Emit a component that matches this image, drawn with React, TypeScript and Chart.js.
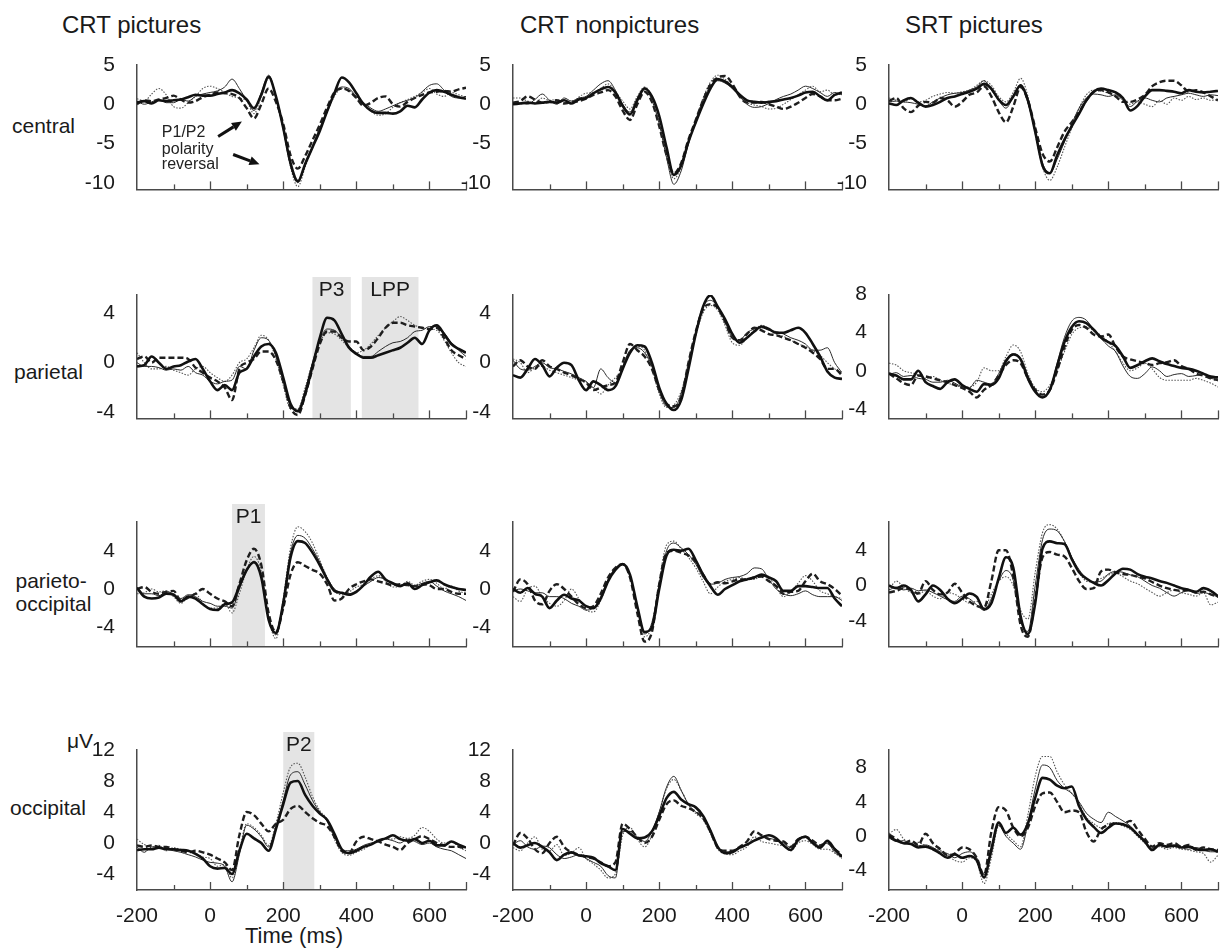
import React, { useEffect, useRef } from "react";
import { Chart, registerables } from "chart.js";
Chart.register(...registerables);

const FONT = '"Liberation Sans", Arial, Helvetica, sans-serif';

// ---------- shared axes ----------
const TIMES = [-200,-180,-160,-140,-120,-100,-80,-60,-40,-20,0,20,40,60,80,100,120,140,160,180,200,220,240,260,280,300,320,340,360,380,400,420,440,460,480,500,520,540,560,580,600,620,640,660,680,700];
const X_TICK_MARKS = [-100,0,100,200,300,400,500,600,700];
const X_LABELS = [-200,0,200,400,600];
const COLUMN_TITLES = ["CRT pictures", "CRT nonpictures", "SRT pictures"];
const ROW_LABELS = [["central"], ["parietal"], ["parieto-", "occipital"], ["occipital"]];

const Y_TICKS_CENTRAL = [-10,-5,0,5];
const Y_TICKS_4 = [-4,0,4];
const Y_TICKS_48 = [-4,0,4,8];
const Y_TICKS_12 = [-4,0,4,8,12];

// shaded component windows (ms)
const WIN_P3 = [280, 385];
const WIN_LPP = [415, 570];
const WIN_P1 = [60, 150];
const WIN_P2 = [200, 285];

// ---------- central ----------
const CEN_CP_THICK = [0.2,0.4,0.1,0.5,0.4,0.5,0.6,0.9,1.2,1.1, 1.1,1.3,1.5,1.8,1.4,0.6,-0.5,1.2,3.5,1.0, -3.0,-7.5,-9.8,-7.6,-5.5,-3.4,-0.9,1.4,3.4,2.8, 1.4,0.0,-0.8,-1.1,-1.1,-1.2,-0.9,-0.2,-0.4,0.6, 1.5,1.8,1.6,1.2,0.9,0.7];
const CEN_CP_THIN = [0.4,0.0,0.3,0.6,0.2,0.2,0.6,0.4,1.0,1.3, 1.5,1.7,2.2,3.2,2.0,0.5,-0.8,1.5,3.7,1.0, -3.2,-7.8,-10.0,-7.8,-5.3,-3.0,-0.8,1.2,2.2,2.0, 1.0,0.2,-0.5,-0.9,-0.6,-0.2,0.2,0.5,0.8,1.6, 2.4,2.6,1.8,1.0,0.8,1.0];
const CEN_CP_DASH = [0.0,0.5,0.4,0.6,0.8,1.1,0.6,0.2,0.4,0.9, 1.2,1.5,1.4,1.3,0.8,-0.5,-1.8,0.0,2.0,0.3, -2.5,-6.5,-8.2,-6.6,-4.6,-2.6,-0.4,1.5,2.0,1.7, 0.8,-0.2,0.2,0.8,1.0,0.0,-0.3,0.3,0.8,1.2, 1.5,1.6,1.7,1.6,1.9,2.1];
const CEN_CP_DOT = [0.7,0.4,1.3,2.0,1.2,-0.3,-0.5,0.2,1.0,2.0, 2.3,2.0,1.5,1.0,0.8,0.4,-1.2,1.0,3.3,0.8, -3.2,-8.0,-10.5,-8.0,-5.5,-3.2,-1.0,1.0,2.0,1.8, 0.8,0.0,-0.9,-1.4,-1.2,-0.4,0.2,0.6,1.0,1.5, 2.0,1.3,1.0,1.5,1.2,0.9];

const CEN_CN_THICK = [0.0,0.1,0.2,0.1,0.2,0.3,0.2,0.5,0.1,0.6, 0.8,1.4,1.9,2.2,1.5,-0.2,-1.3,0.5,2.0,1.0, -1.5,-5.5,-9.0,-7.8,-4.8,-2.3,0.0,2.0,3.2,2.9, 2.2,1.2,0.5,0.3,0.2,0.3,0.4,0.6,0.8,1.1, 1.5,1.6,1.0,0.5,1.2,1.5];
const CEN_CN_THIN = [0.1,0.2,0.0,0.6,1.3,0.5,0.0,0.8,0.4,0.8, 1.0,1.8,2.6,3.0,1.8,0.0,-1.0,0.8,2.1,0.5, -2.5,-6.8,-10.2,-8.5,-5.0,-2.0,0.5,2.3,3.0,2.7, 2.0,1.0,0.0,-0.4,-0.3,0.1,0.6,1.0,1.3,1.8, 2.3,2.0,1.5,1.0,1.5,1.2];
const CEN_CN_DASH = [0.2,0.4,1.0,0.6,0.2,0.3,0.5,0.1,0.3,0.4, 0.7,1.2,1.5,1.8,1.0,-0.8,-2.0,0.0,1.6,0.3, -2.8,-6.5,-8.8,-7.5,-4.5,-2.0,0.5,2.5,3.4,3.6, 2.6,1.0,0.2,0.2,0.3,0.0,-0.3,-0.6,-0.3,0.2, 0.8,1.3,1.0,0.5,0.5,0.7];
const CEN_CN_DOT = [0.8,0.8,0.4,0.2,0.8,0.5,0.6,0.2,0.0,0.9, 1.4,1.5,2.0,2.6,1.6,0.4,-0.6,1.0,2.2,1.0, -2.0,-6.5,-9.5,-8.0,-5.0,-2.0,0.8,2.8,3.7,3.2, 2.2,1.0,0.2,-0.1,-0.3,-0.6,-0.5,0.0,0.6,1.2, 1.8,2.3,1.6,1.8,1.2,1.3];

const CEN_SP_THICK = [0.1,-0.1,0.5,0.8,0.2,-0.3,-0.1,0.3,0.8,1.0, 1.3,1.6,2.0,2.6,2.0,0.6,-0.1,1.0,2.4,0.5, -3.5,-7.8,-8.8,-6.5,-4.5,-2.8,-1.2,0.5,1.6,2.0, 1.8,1.5,0.8,-0.8,-0.2,1.0,1.8,1.8,1.7,1.6, 1.4,1.8,1.6,1.5,1.6,1.7];
const CEN_SP_THIN = [0.3,0.4,0.3,0.2,0.0,-0.2,0.3,0.8,1.2,1.4, 1.5,1.8,2.2,3.0,1.8,0.5,-0.5,1.0,2.5,0.2, -3.5,-7.5,-8.8,-7.0,-4.8,-2.5,-0.5,0.8,1.3,1.2, 1.0,1.2,0.5,-0.3,0.4,0.8,0.5,0.3,0.8,1.0, 1.2,1.4,1.2,1.0,1.2,1.1];
const CEN_SP_DASH = [0.4,0.8,-0.5,-1.0,-0.2,0.3,0.2,0.8,0.5,-0.3, 0.3,1.2,1.5,2.3,1.0,-1.0,-2.3,-0.3,2.2,0.5, -3.0,-6.3,-7.3,-5.5,-3.5,-2.3,-1.0,0.5,1.6,1.8, 1.5,1.0,0.3,0.3,0.6,1.2,2.3,2.8,3.0,3.0, 2.4,1.6,1.8,1.5,1.0,0.5];
const CEN_SP_DOT = [0.8,0.5,0.3,0.7,0.3,0.5,1.0,1.3,1.5,1.4, 1.6,1.8,2.4,3.0,2.4,1.0,0.3,1.5,3.3,1.0, -3.8,-8.0,-9.7,-8.0,-5.5,-3.0,-0.5,1.2,1.8,1.7, 1.4,1.0,0.8,0.0,0.3,0.0,-0.3,0.5,0.0,0.8, 0.5,1.0,0.6,0.8,0.5,0.6];

// ---------- parietal ----------
const PAR_CP_THICK = [-0.3,-0.2,0.5,0.0,-0.5,-0.3,-0.2,0.1,0.3,-0.5, -1.5,-2.2,-1.8,-2.2,-0.8,-0.5,0.5,1.3,1.5,0.8, -1.2,-3.3,-3.9,-2.5,-0.3,2.0,3.6,3.4,2.3,1.2, 0.7,0.4,0.4,0.6,0.8,1.0,1.2,1.6,2.0,1.5, 2.6,3.0,2.3,1.5,1.1,0.8];
const PAR_CP_THIN = [0.0,-0.3,-0.3,-0.4,-0.6,-0.5,-0.6,-0.3,-0.8,-1.0, -1.5,-1.7,-1.5,-1.4,-0.3,-0.5,1.0,2.0,1.8,0.5, -1.5,-3.5,-3.8,-2.2,0.0,1.8,2.7,2.6,2.0,1.3, 0.8,0.5,0.5,0.9,1.3,1.6,1.7,2.0,2.5,2.6, 2.9,2.9,2.4,1.6,1.0,0.5];
const PAR_CP_DASH = [0.3,0.5,0.0,0.4,0.4,0.4,0.4,0.3,-0.4,-0.8, -1.2,-1.5,-2.0,-3.0,-0.5,0.0,0.3,0.9,0.9,0.2, -1.5,-3.6,-4.2,-2.6,-0.5,1.5,2.5,2.5,2.0,1.7, 1.7,1.0,1.3,2.0,2.8,3.2,3.2,3.0,2.9,2.8, 2.7,2.8,2.0,1.0,0.6,0.3];
const PAR_CP_DOT = [0.8,0.0,-0.5,-0.5,-0.3,-0.6,-0.8,-1.0,-0.5,-0.3, -0.8,-1.2,-1.5,-1.0,0.0,0.3,1.2,2.2,1.8,0.3, -1.8,-3.7,-3.7,-2.0,0.0,1.6,2.4,2.3,1.8,1.2, 0.8,1.0,1.5,2.2,2.8,3.3,3.7,3.4,3.0,2.8, 2.7,2.6,1.8,0.8,0.0,-0.3];

const PAR_CN_THICK = [-1.0,-1.2,-0.5,0.3,-0.2,-1.1,-0.4,0.0,-0.2,-1.4, -2.2,-1.5,-1.8,-2.2,-1.9,-0.5,0.8,1.4,1.3,0.0, -2.0,-3.3,-3.8,-3.0,-0.5,2.3,4.5,5.4,4.5,3.5, 2.3,1.6,2.0,2.5,2.9,2.7,2.4,2.4,2.6,2.8, 2.4,1.5,0.5,-0.7,-1.2,-1.3];
const PAR_CN_THIN = [0.2,-0.5,-0.6,-0.3,0.0,-0.4,-0.5,-0.7,-0.9,-1.2, -1.5,-2.0,-0.5,-1.2,-1.6,-0.3,1.0,1.2,0.8,-0.3, -2.3,-3.5,-3.6,-2.5,0.0,2.5,4.5,5.0,4.5,3.3, 2.0,1.8,2.4,2.7,2.8,2.6,2.5,2.3,2.0,1.8, 1.5,1.0,1.0,1.2,0.0,-0.8];
const PAR_CN_DASH = [-0.3,0.2,-0.3,-0.5,0.2,-0.3,-0.5,-0.8,-1.0,-1.3, -1.6,-2.2,-2.0,-1.8,-1.6,0.0,1.5,1.0,0.5,-0.5, -2.2,-3.3,-3.5,-2.8,0.0,2.5,4.3,4.7,4.4,3.3, 2.0,1.8,2.3,2.8,2.6,2.3,2.2,2.0,1.8,1.5, 1.2,0.8,0.3,-0.5,-0.5,-1.0];
const PAR_CN_DOT = [0.3,0.0,-0.8,-0.4,-0.3,-0.6,-0.8,-1.0,-1.2,-1.4, -1.6,-2.0,-2.5,-1.8,-1.2,-0.5,0.8,1.3,1.0,-0.5, -2.5,-3.6,-3.4,-2.3,-0.2,2.2,4.0,4.6,4.2,3.0, 1.6,1.4,2.0,2.6,3.0,2.7,2.3,2.1,1.8,1.5, 1.3,1.0,0.6,0.0,-0.5,-0.8];

const PAR_SP_THICK = [-0.3,-0.5,-0.9,-0.9,0.0,-1.2,-1.6,-1.9,-1.2,-0.9, -1.5,-1.9,-2.2,-1.4,-1.5,-0.8,1.0,1.7,1.2,-0.8, -2.2,-2.8,-2.0,0.5,3.0,4.6,5.2,5.0,4.3,3.5, 3.0,2.6,1.5,0.3,0.6,1.0,1.3,1.0,0.7,0.5, 0.3,0.2,0.0,-0.3,-0.6,-0.7];
const PAR_SP_THIN = [-0.4,-0.2,-0.6,-0.5,-0.8,-0.9,-1.2,-1.2,-1.0,-1.3, -1.7,-1.8,-1.0,-1.2,-1.4,-0.3,1.2,1.8,1.3,-0.5, -2.0,-2.7,-2.0,0.8,3.5,5.2,5.6,5.3,4.3,3.4, 2.6,2.0,0.5,-0.6,-0.8,-0.3,0.4,0.0,-0.6,-0.4, -0.3,-0.6,-0.5,-0.4,-0.8,-0.9];
const PAR_SP_DASH = [-0.3,-0.8,-1.3,-1.5,-0.5,-0.6,-0.8,-1.0,-1.2,-1.5, -1.8,-2.2,-2.8,-2.0,-1.5,-0.5,0.6,1.1,0.8,-0.8, -2.0,-2.5,-2.0,0.0,2.5,4.3,4.8,4.5,3.8,3.6, 3.8,2.5,1.5,1.2,1.0,0.8,0.6,0.8,0.9,1.1, 0.5,0.2,-0.3,-0.5,-0.8,-1.0];
const PAR_SP_DOT = [0.8,0.6,0.0,-0.2,-0.4,-0.8,-0.6,-1.0,-1.3,-1.5, -1.7,-1.7,-1.2,0.3,0.0,0.0,1.5,2.7,2.0,-0.3, -1.8,-2.2,-1.5,0.0,2.0,3.8,4.5,4.6,4.2,3.7, 3.0,2.0,0.8,0.0,0.3,0.8,0.2,-0.7,-1.0,-1.0, -1.0,-1.0,-0.8,-1.0,-1.3,-1.7];

// ---------- parieto-occipital ----------
const PO_CP_THICK = [0.1,-0.8,-1.0,-0.9,-0.5,-0.6,-1.3,-0.8,-1.0,-1.6, -2.1,-2.2,-1.6,-1.4,0.3,2.0,2.8,1.2,-3.2,-4.6, -1.5,3.3,5.0,4.8,3.8,2.5,1.0,-0.2,-0.4,-0.6, -0.3,0.4,1.3,1.8,1.0,0.6,0.3,0.6,0.0,0.4, 0.7,0.9,0.5,0.2,0.0,-0.1];
const PO_CP_THIN = [0.2,-0.5,-0.5,-0.7,-0.3,-0.5,-1.0,-0.6,-0.8,-1.3, -1.5,-1.8,-1.8,-2.0,0.0,1.8,2.9,1.5,-3.0,-4.8, -1.2,3.8,5.6,5.3,4.2,2.8,1.2,0.0,-0.4,-0.5, -0.2,0.3,0.8,1.2,1.0,0.5,0.4,0.5,0.3,0.6, 0.8,0.3,-0.2,-0.5,-0.8,-1.2];
const PO_CP_DASH = [0.0,0.2,-0.3,-0.5,-0.3,-0.2,-1.2,-0.9,-0.5,0.0, -0.5,-1.0,-1.3,-1.8,0.5,3.0,4.2,2.5,-2.5,-4.5, -2.0,1.5,2.8,2.4,2.0,1.6,0.5,-1.2,-1.0,0.0, 0.5,0.8,1.0,0.8,0.6,0.4,0.5,0.4,0.3,0.5, 0.4,0.0,0.0,-0.3,-0.5,-0.5];
const PO_CP_DOT = [-0.5,-0.4,0.0,-0.3,-0.2,-0.8,-1.5,-0.8,-0.5,-1.5, -2.0,-2.0,-1.5,-2.5,-0.5,2.0,3.4,1.8,-3.0,-5.2, -1.0,4.3,6.5,6.0,4.8,3.0,1.2,-0.2,-0.6,-0.3, 0.2,0.5,1.0,1.4,0.8,0.2,0.3,0.8,0.4,0.8, 1.0,0.6,0.0,0.3,-0.2,-0.5];

const PO_CN_THICK = [0.0,-0.4,0.1,-0.5,-0.8,-2.0,-1.2,-0.6,-1.0,-1.2, -1.8,-2.0,-1.0,0.8,2.0,2.6,1.5,-1.8,-4.5,-4.0, 0.0,3.5,4.1,4.0,4.2,3.0,1.5,0.3,-0.6,0.0, 0.4,0.8,1.0,1.2,1.5,1.2,0.8,-0.2,-0.2,0.3, 0.3,0.2,0.1,0.1,-1.0,-1.8];
const PO_CN_THIN = [-0.2,0.0,-0.2,-0.4,-0.4,-0.8,-0.8,-1.0,-1.5,-1.8, -2.2,-2.0,-0.8,1.0,2.2,2.6,1.3,-2.0,-4.7,-3.5, 0.5,4.0,4.8,4.3,3.6,2.6,1.2,0.5,0.6,1.0, 1.2,1.3,1.6,2.2,2.1,1.0,0.0,-0.5,-0.7,-0.5, -0.2,-0.6,-0.8,-0.8,-0.8,-1.2];
const PO_CN_DASH = [-0.3,1.0,0.5,-1.2,-1.6,-0.2,0.5,0.0,-0.8,-1.6, -2.0,-1.8,-0.5,1.2,2.2,2.6,1.2,-2.5,-5.5,-4.5, 0.5,3.8,4.0,3.8,3.5,2.8,1.5,0.5,0.7,0.6, 0.8,1.0,1.0,1.2,1.3,0.8,0.3,-0.5,-0.3,-0.2, 0.8,1.6,0.8,0.5,0.0,-0.7];
const PO_CN_DOT = [-0.8,-1.3,0.0,0.3,-0.8,-1.5,-1.8,-1.2,0.0,-1.0, -2.2,-2.4,-1.2,0.8,2.0,2.5,1.4,-2.2,-5.0,-3.8, 0.8,4.6,5.0,4.2,3.3,2.2,0.8,-0.5,0.2,0.8, 1.0,1.2,1.0,1.0,1.4,1.2,0.2,-0.8,-0.3,0.6, 1.4,0.8,-0.2,-0.5,-0.8,-1.0];

const PO_SP_THICK = [0.0,-0.3,0.0,-0.5,-1.8,-1.0,0.0,-0.5,-1.5,-2.0, -1.5,-0.9,-1.3,-2.7,-2.0,0.8,3.2,2.0,-3.5,-5.5, -2.0,4.2,5.0,4.8,4.7,3.0,1.5,0.8,0.3,0.0, 0.6,1.4,1.9,1.8,1.3,1.0,0.8,0.5,0.3,0.0, -0.3,-0.5,-0.7,-0.3,-0.6,-1.2];
const PO_SP_THIN = [-0.5,-0.2,-0.5,-0.3,-0.6,-0.5,-0.8,-1.2,-1.6,-1.8, -1.2,-1.5,-2.2,-2.8,-1.5,0.5,1.7,0.6,-4.0,-5.2, 0.0,5.2,6.4,6.2,5.0,3.2,1.8,0.8,0.4,0.5, 1.3,1.6,1.5,1.2,1.0,0.5,0.0,-0.3,-0.8,-1.2, -0.8,-0.6,-0.9,-0.8,-1.0,-1.3];
const PO_SP_DASH = [-0.8,-0.6,-0.3,-0.5,-0.9,0.5,-0.5,-1.0,-0.8,0.2, -0.8,-1.8,-2.3,-2.5,0.5,4.0,4.0,1.0,-4.5,-5.8, -1.5,3.2,3.8,3.5,3.3,2.0,0.5,-0.4,-0.3,1.6, 1.8,1.5,1.3,1.2,1.0,0.8,0.4,0.0,-0.3,-0.5, -0.6,-0.5,-0.8,-0.7,-1.0,-1.3];
const PO_SP_DOT = [-0.5,0.5,-0.2,-0.8,-1.0,-0.6,-1.2,-1.5,-0.8,-1.0, -1.5,-2.0,-1.8,-2.5,-1.0,0.5,1.0,0.0,-2.8,-3.8, 1.5,6.0,6.9,6.4,5.0,3.2,1.5,0.5,0.4,0.8, 1.2,1.4,1.0,0.5,0.2,-0.3,-0.8,-1.2,-0.8,-0.5, -0.8,-1.0,-1.2,-0.8,-2.2,-1.9];

// ---------- occipital ----------
const OCC_CP_THICK = [-0.9,-0.8,-0.8,-0.6,-0.8,-0.8,-0.9,-1.0,-1.4,-2.0, -3.0,-3.3,-3.2,-4.0,-1.0,1.2,0.6,0.0,-1.0,1.8, 5.0,7.8,8.0,6.2,4.8,3.8,3.0,1.2,-0.8,-1.3, -1.0,-0.5,-0.2,0.3,0.6,1.0,0.5,0.3,0.5,0.0, 0.3,-0.3,-0.3,0.2,-0.2,-0.6];
const OCC_CP_THIN = [-0.5,-1.2,-0.5,-0.6,-0.8,-1.0,-1.2,-1.5,-1.8,-2.2, -2.5,-2.6,-3.0,-5.0,-1.5,2.3,1.8,0.8,-0.5,2.0, 5.5,8.8,9.2,7.5,5.5,4.0,2.8,0.8,-0.8,-1.0, -0.8,-0.3,0.0,0.2,0.5,0.3,0.0,0.5,0.2,-0.2, 0.0,-0.5,-0.8,-1.0,-1.5,-2.0];
const OCC_CP_DASH = [-0.3,-0.5,-0.3,-0.5,-0.5,-0.8,-1.0,-1.2,-1.0,-1.2, -1.5,-2.0,-2.5,-3.5,1.0,4.0,3.6,2.5,1.5,2.5, 3.0,4.4,4.8,4.0,3.2,2.6,2.2,0.8,-1.0,-1.3, 0.2,0.8,0.5,0.2,-0.2,-0.5,-0.9,0.0,0.5,0.9, 0.5,0.0,-0.3,-0.5,-0.5,-0.8];
const OCC_CP_DOT = [0.5,-0.2,-0.5,-0.3,-1.0,-0.6,-0.8,-1.0,-1.3,-1.8, -2.0,-3.0,-2.8,-4.5,-1.0,2.5,2.0,1.0,-0.3,2.5, 6.5,9.8,10.3,8.5,6.0,4.2,3.0,0.5,-1.2,-1.6, -1.2,-0.8,-0.2,0.3,0.6,0.5,0.8,0.6,1.0,2.0, 1.5,0.5,0.0,0.2,-0.5,-1.0];

const OCC_CN_THICK = [0.0,-0.6,-0.3,0.0,-0.5,-1.2,-2.2,-1.5,-1.2,-1.6, -1.7,-1.9,-2.6,-3.0,-3.5,1.8,1.2,0.6,0.7,1.5, 3.5,5.8,6.6,5.6,5.0,4.6,3.5,1.6,-0.5,-1.3, -1.2,-0.6,-0.2,0.3,0.7,1.0,0.6,-0.3,-0.9,0.4, 0.8,0.0,-0.6,0.3,-0.8,-1.8];
const OCC_CN_THIN = [-0.2,0.3,-0.5,-0.8,-0.4,-0.6,-1.5,-2.0,-1.8,-1.5, -2.0,-2.5,-3.0,-4.2,-4.5,1.5,1.5,0.8,0.2,1.5, 4.0,7.2,8.6,6.8,5.0,4.0,3.4,1.5,-0.5,-1.2, -1.0,-0.5,-0.2,0.4,0.8,0.6,0.4,0.0,-0.6,0.5, 0.8,0.2,-0.4,0.0,-1.2,-1.8];
const OCC_CN_DASH = [-0.3,1.3,0.6,-0.8,-1.3,0.0,0.8,-0.5,-1.2,-1.5, -1.8,-2.0,-2.5,-3.0,-2.5,2.5,1.8,0.8,0.0,0.8, 3.0,5.0,5.5,4.8,4.5,4.0,3.2,1.5,-0.6,-1.0, -1.0,-0.5,0.2,1.5,1.0,0.5,0.3,0.2,-0.5,0.5, 0.8,0.3,-0.3,0.0,-0.8,-1.5];
const OCC_CN_DOT = [-0.6,-1.0,0.0,0.8,-0.8,-1.0,-0.2,-1.6,-1.3,-0.6, -2.0,-2.7,-3.5,-4.5,-4.0,1.0,2.0,0.5,-0.5,1.0, 4.0,7.0,8.2,6.8,5.0,3.8,3.0,1.2,-0.8,-1.4, -1.5,-1.0,-0.5,0.8,0.2,0.0,-0.2,-0.4,-1.0,0.0, 0.3,-0.2,-0.8,-0.8,-1.3,-2.0];

const OCC_SP_THICK = [0.0,-0.5,-0.8,-0.9,-1.3,-1.2,-1.5,-2.0,-2.5,-2.1, -2.5,-2.3,-2.8,-4.8,-1.5,1.6,0.4,1.0,0.2,1.5, 4.5,6.8,6.6,5.9,5.6,5.8,3.5,2.0,1.1,0.4, 1.0,1.5,1.4,1.0,0.2,-0.6,-1.6,-1.0,-1.2,-1.1, -1.3,-1.2,-1.5,-1.6,-1.5,-1.8];
const OCC_SP_THIN = [-0.2,-0.6,-0.5,-0.9,-1.1,-1.0,-1.3,-1.8,-2.0,-2.5, -2.0,-1.8,-2.5,-4.5,-2.0,1.3,0.0,-0.8,-1.5,1.5, 5.5,8.3,8.0,6.5,5.6,5.0,4.0,2.7,2.0,1.6, 2.8,2.3,1.8,1.2,0.3,-0.8,-1.4,-1.0,-1.2,-1.0, -1.3,-1.5,-1.3,-1.6,-1.8,-1.8];
const OCC_SP_DASH = [0.2,-0.3,-0.8,-0.5,-1.0,0.3,-0.8,-1.5,-2.2,-2.0, -1.3,-1.5,-2.5,-4.5,0.5,3.4,3.0,1.0,0.0,1.0, 3.5,5.0,5.1,4.0,2.8,3.0,2.8,0.5,-0.6,0.8, 1.3,1.5,1.4,1.8,0.8,-0.3,-1.2,-0.8,-1.0,-0.8, -1.2,-1.0,-1.6,-1.3,-1.5,-1.6];
const OCC_SP_DOT = [0.3,0.8,-0.3,-0.8,-0.7,-1.1,-1.4,-1.6,-2.2,-2.8, -3.0,-2.5,-3.0,-5.5,-2.5,1.2,0.3,-0.5,-1.2,2.5, 7.0,9.3,9.3,7.5,6.0,5.0,3.8,2.2,1.5,1.0, 1.5,1.6,1.2,0.8,0.0,-0.8,-1.3,-1.2,-1.5,-1.3, -1.5,-1.6,-1.8,-2.0,-3.0,-2.2];

// ---------- layout ----------
const COL_LEFT = [137, 513, 889];
const PLOT_W = 329;
const ROW_TOP = [65, 295, 522, 750];
const ROW_H = [139, 138, 139, 140];
const PAD_TOP = 30;
const Y_AXIS_W = 70;
const AXIS_COLOR = "#4a4a4a";
const TEXT_COLOR = "#1a1a1a";
const SHADE_COLOR = "#e4e4e4";

const STYLES = [
  { color: "#111111", width: 2.6, dash: [] as number[] },
  { color: "#2a2a2a", width: 1.0, dash: [] as number[] },
  { color: "#1e1e1e", width: 2.4, dash: [6, 3] },
  { color: "#555555", width: 1.1, dash: [1.5, 1.5] },
];

type Shade = { win: number[]; label: string };
type PanelCfg = {
  row: number; col: number; series: number[][]; yMin: number; yMax: number; yTicks: number[];
  shades: Shade[]; annotate?: boolean;
};

const PANELS: PanelCfg[] = [
  { row: 0, col: 0, series: [CEN_CP_THICK, CEN_CP_THIN, CEN_CP_DASH, CEN_CP_DOT], yMin: -10.85, yMax: 5, yTicks: Y_TICKS_CENTRAL, shades: [], annotate: true },
  { row: 0, col: 1, series: [CEN_CN_THICK, CEN_CN_THIN, CEN_CN_DASH, CEN_CN_DOT], yMin: -10.85, yMax: 5, yTicks: Y_TICKS_CENTRAL, shades: [] },
  { row: 0, col: 2, series: [CEN_SP_THICK, CEN_SP_THIN, CEN_SP_DASH, CEN_SP_DOT], yMin: -10.85, yMax: 5, yTicks: Y_TICKS_CENTRAL, shades: [] },
  { row: 1, col: 0, series: [PAR_CP_THICK, PAR_CP_THIN, PAR_CP_DASH, PAR_CP_DOT], yMin: -4.47, yMax: 5.43, yTicks: Y_TICKS_4, shades: [{ win: WIN_P3, label: "P3" }, { win: WIN_LPP, label: "LPP" }] },
  { row: 1, col: 1, series: [PAR_CN_THICK, PAR_CN_THIN, PAR_CN_DASH, PAR_CN_DOT], yMin: -4.47, yMax: 5.43, yTicks: Y_TICKS_4, shades: [] },
  { row: 1, col: 2, series: [PAR_SP_THICK, PAR_SP_THIN, PAR_SP_DASH, PAR_SP_DOT], yMin: -5, yMax: 7.95, yTicks: Y_TICKS_48, shades: [] },
  { row: 2, col: 0, series: [PO_CP_THICK, PO_CP_THIN, PO_CP_DASH, PO_CP_DOT], yMin: -6, yMax: 7, yTicks: Y_TICKS_4, shades: [{ win: WIN_P1, label: "P1" }] },
  { row: 2, col: 1, series: [PO_CN_THICK, PO_CN_THIN, PO_CN_DASH, PO_CN_DOT], yMin: -6, yMax: 7, yTicks: Y_TICKS_4, shades: [] },
  { row: 2, col: 2, series: [PO_SP_THICK, PO_SP_THIN, PO_SP_DASH, PO_SP_DOT], yMin: -6.9, yMax: 7.2, yTicks: Y_TICKS_4, shades: [] },
  { row: 3, col: 0, series: [OCC_CP_THICK, OCC_CP_THIN, OCC_CP_DASH, OCC_CP_DOT], yMin: -6.06, yMax: 12, yTicks: Y_TICKS_12, shades: [{ win: WIN_P2, label: "P2" }] },
  { row: 3, col: 1, series: [OCC_CN_THICK, OCC_CN_THIN, OCC_CN_DASH, OCC_CN_DOT], yMin: -6.06, yMax: 12, yTicks: Y_TICKS_12, shades: [] },
  { row: 3, col: 2, series: [OCC_SP_THICK, OCC_SP_THIN, OCC_SP_DASH, OCC_SP_DOT], yMin: -6.25, yMax: 10.05, yTicks: Y_TICKS_48, shades: [] },
];

function drawArrow(ctx: CanvasRenderingContext2D, x0: number, y0: number, x1: number, y1: number) {
  const ang = Math.atan2(y1 - y0, x1 - x0);
  const hl = 10, hw = 4.5;
  const bx = x1 - hl * Math.cos(ang), by = y1 - hl * Math.sin(ang);
  ctx.save();
  ctx.strokeStyle = "#111"; ctx.fillStyle = "#111"; ctx.lineWidth = 3; ctx.setLineDash([]);
  ctx.beginPath(); ctx.moveTo(x0, y0); ctx.lineTo(bx, by); ctx.stroke();
  ctx.beginPath();
  ctx.moveTo(x1, y1);
  ctx.lineTo(bx + hw * Math.sin(ang), by - hw * Math.cos(ang));
  ctx.lineTo(bx - hw * Math.sin(ang), by + hw * Math.cos(ang));
  ctx.closePath(); ctx.fill();
  ctx.restore();
}

function Panel({ cfg }: { cfg: PanelCfg }) {
  const ref = useRef<HTMLCanvasElement | null>(null);
  const isBottom = cfg.row === 3;
  const xH = isBottom ? 40 : 12;
  const padRight = cfg.col === 2 ? 2 : 8;
  const W = Y_AXIS_W + PLOT_W + padRight;
  const H = PAD_TOP + ROW_H[cfg.row] + xH;
  const left = COL_LEFT[cfg.col] - Y_AXIS_W;
  const top = ROW_TOP[cfg.row] - PAD_TOP;

  useEffect(() => {
    if (!ref.current) return;
    const decor = {
      id: "decor",
      beforeDraw(chart: any) {
        const { ctx, chartArea, scales } = chart;
        const xs = scales.x;
        ctx.save();
        for (const sh of cfg.shades) {
          const x0 = xs.getPixelForValue(sh.win[0]);
          const x1 = xs.getPixelForValue(sh.win[1]);
          const t0 = chartArea.top - 18;
          ctx.fillStyle = SHADE_COLOR;
          ctx.fillRect(x0, t0, x1 - x0, chartArea.bottom - t0);
          ctx.fillStyle = TEXT_COLOR;
          ctx.font = `21px ${FONT}`;
          ctx.textAlign = "center";
          ctx.textBaseline = "middle";
          ctx.fillText(sh.label, (x0 + x1) / 2, t0 + 13);
        }
        ctx.restore();
      },
      afterDraw(chart: any) {
        const { ctx, chartArea, scales } = chart;
        const xs = scales.x, ys = scales.y;
        ctx.save();
        ctx.strokeStyle = AXIS_COLOR;
        ctx.lineWidth = 1.3;
        ctx.setLineDash([]);
        for (const v of X_TICK_MARKS) {
          const px = Math.round(xs.getPixelForValue(v)) + 0.5;
          const len = v % 200 === 0 || v === 700 ? 8 : 5;
          ctx.beginPath();
          ctx.moveTo(px, chartArea.bottom);
          ctx.lineTo(px, chartArea.bottom - len);
          ctx.stroke();
        }
        if (cfg.annotate) {
          ctx.fillStyle = "#222";
          ctx.font = `16px ${FONT}`;
          ctx.textAlign = "left";
          ctx.textBaseline = "middle";
          const tx = xs.getPixelForValue(-132);
          ctx.fillText("P1/P2", tx, ys.getPixelForValue(-3.67));
          ctx.fillText("polarity", tx, ys.getPixelForValue(-5.83));
          ctx.fillText("reversal", tx, ys.getPixelForValue(-7.74));
          drawArrow(ctx, xs.getPixelForValue(22), ys.getPixelForValue(-4.12), xs.getPixelForValue(87), ys.getPixelForValue(-2.2));
          drawArrow(ctx, xs.getPixelForValue(63), ys.getPixelForValue(-6.4), xs.getPixelForValue(135), ys.getPixelForValue(-7.65));
        }
        ctx.restore();
      },
    };

    const chart = new Chart(ref.current, {
      type: "line",
      data: {
        datasets: cfg.series.map((vals, i) => ({
          data: TIMES.map((t, j) => ({ x: t, y: vals[j] })),
          borderColor: STYLES[i].color,
          borderWidth: STYLES[i].width,
          borderDash: STYLES[i].dash,
          pointRadius: 0,
          fill: false,
          cubicInterpolationMode: "monotone" as const,
          borderJoinStyle: "round" as const,
        })),
      },
      options: {
        animation: false,
        responsive: false,
        maintainAspectRatio: false,
        devicePixelRatio: 1,
        events: [],
        layout: { padding: { top: PAD_TOP, right: padRight, left: 0, bottom: 0 } },
        plugins: { legend: { display: false }, tooltip: { enabled: false } },
        scales: {
          x: {
            type: "linear",
            min: -200,
            max: 700,
            grid: { display: false },
            border: { display: true, color: AXIS_COLOR, width: 1.5 },
            afterBuildTicks: (s: any) => { s.ticks = X_LABELS.map((v) => ({ value: v })); },
            afterFit: (s: any) => { s.height = xH; },
            ticks: {
              display: isBottom,
              autoSkip: false,
              maxRotation: 0,
              padding: 6,
              color: TEXT_COLOR,
              font: { family: FONT, size: 21 },
              callback: (v: any) => String(v),
            },
          },
          y: {
            type: "linear",
            min: cfg.yMin,
            max: cfg.yMax,
            grid: { display: false },
            border: { display: true, color: AXIS_COLOR, width: 1.5 },
            afterBuildTicks: (s: any) => { s.ticks = cfg.yTicks.map((v) => ({ value: v })); },
            afterFit: (s: any) => { s.width = Y_AXIS_W; },
            ticks: {
              autoSkip: false,
              padding: 14,
              color: TEXT_COLOR,
              font: { family: FONT, size: 21 },
              callback: (v: any) => String(v),
            },
          },
        },
      },
      plugins: [decor],
    } as any);
    return () => chart.destroy();
  }, []);

  return (
    <canvas
      ref={ref}
      width={W}
      height={H}
      style={{ position: "absolute", left, top, width: W, height: H }}
    />
  );
}

function Label({ x, y, text, size, center }: { x: number; y: number; text: string; size: number; center?: boolean }) {
  return (
    <div
      style={{
        position: "absolute",
        left: x,
        top: y,
        transform: center ? "translate(-50%, -50%)" : "translateY(-50%)",
        fontFamily: FONT,
        fontSize: size,
        lineHeight: 1,
        color: TEXT_COLOR,
        whiteSpace: "nowrap",
      }}
    >
      {text}
    </div>
  );
}

const TITLE_POS = [[62, 25], [520, 25], [905, 25]];
const ROW_LABEL_POS = [[[12, 125]], [[14, 371]], [[15.5, 580], [15.5, 603]], [[10, 807]]];

export default function App() {
  return (
    <div style={{ position: "absolute", left: 0, top: 0, width: 1221, height: 952, background: "#fff", overflow: "hidden" }}>
      {COLUMN_TITLES.map((t, i) => (
        <Label key={"t" + i} x={TITLE_POS[i][0]} y={TITLE_POS[i][1]} text={t} size={24} />
      ))}
      {ROW_LABELS.map((lines, r) =>
        lines.map((ln, k) => (
          <Label key={"r" + r + k} x={ROW_LABEL_POS[r][k][0]} y={ROW_LABEL_POS[r][k][1]} text={ln} size={21} />
        ))
      )}
      <Label x={67} y={740} text="μV" size={21} />
      <Label x={294} y={936} text="Time (ms)" size={22} center />
      {PANELS.map((p, i) => (
        <Panel key={i} cfg={p} />
      ))}
    </div>
  );
}
